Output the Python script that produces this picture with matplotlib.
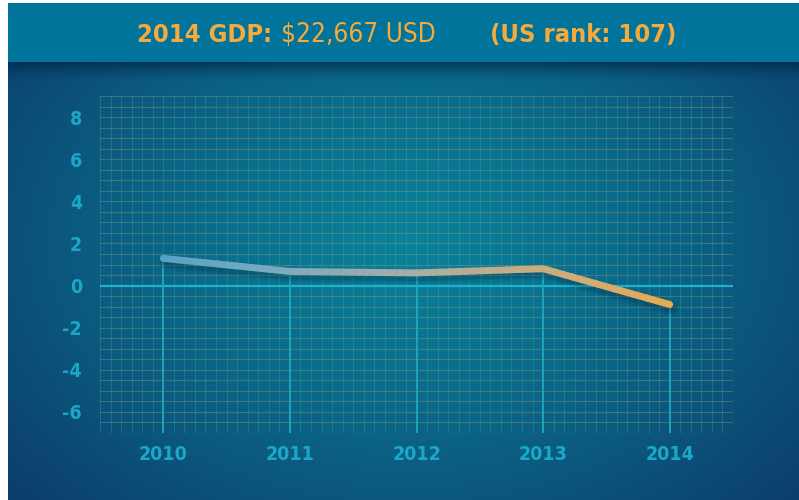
import numpy as np
import matplotlib
matplotlib.use("Agg")
import matplotlib.pyplot as plt
from matplotlib.patches import Rectangle
from matplotlib.colors import LinearSegmentedColormap, to_rgb
from matplotlib import font_manager
from matplotlib.font_manager import FontProperties
import matplotlib.transforms as mtransforms

years = [2010, 2011, 2012, 2013, 2014]
growth = [1.29, 0.67, 0.6, 0.8, -0.9]
y_ticks = [-6, -4, -2, 0, 2, 4, 6, 8]
x_ticks = years
title_bold = "2014 GDP:"
title_value = "$22,667 USD"
title_rank = "(US rank: 107)"

# look for a condensed face
cond_bold, cond_reg = None, None
for f in font_manager.fontManager.ttflist:
    st = str(f.stretch).lower()
    nm = f.name.lower()
    if st in ("condensed", "semi-condensed", "extra-condensed") or "condensed" in nm or "narrow" in nm \
            or "condensed" in f.fname.lower() or "narrow" in f.fname.lower():
        if f.style != "normal":
            continue
        w = f.weight if isinstance(f.weight, int) else (700 if "bold" in str(f.weight) else 400)
        if w >= 600 and cond_bold is None:
            cond_bold = f.fname
        elif w < 600 and cond_reg is None:
            cond_reg = f.fname

if cond_bold:
    FP_B = FontProperties(fname=cond_bold)
    FP_R = FontProperties(fname=cond_reg) if cond_reg else FontProperties(fname=cond_bold)
    bsize, rsize, tsize = 18.3, 18.8, 14
else:
    FP_B = FontProperties(family="Liberation Sans", weight="bold")
    FP_R = FontProperties(family="Liberation Sans")
    bsize, rsize, tsize = 16, 17, 12.5

W, H = 799, 500
fig = plt.figure(figsize=(W / 100, H / 100), dpi=100)
fig.patch.set_facecolor("white")

# background radial gradient
bg = fig.add_axes([8 / W, 0, (W - 8) / W, (H - 3) / H])
bg.set_axis_off()
yy, xx = np.mgrid[0:H, 0:W - 8]
cx, cy = 400, 240
r = np.sqrt(((xx - cx) / 520) ** 2 + ((yy - cy) / 380) ** 2)
r = np.clip(r, 0, 1)
c_in = np.array(to_rgb("#0a8199"))
c_out = np.array(to_rgb("#0c3e6c"))
t = r[..., None] ** 1.2
img = c_in[None, None, :] * (1 - t) + c_out[None, None, :] * t
bg.imshow(img, aspect="auto", extent=[0, 1, 0, 1], origin="upper")
bg.set_xlim(0, 1)
bg.set_ylim(0, 1)

# shadow under header
sh = fig.add_axes([8 / W, (H - 82) / H, (W - 8) / W, 20 / H])
sh.set_axis_off()
grad = np.linspace(0, 1, 50)[:, None]
sh.imshow(np.dstack([np.full((50, 2), 0.0), np.full((50, 2), 0.12), np.full((50, 2), 0.25),
                     0.6 * (1 - grad) ** 1.5 * np.ones((50, 2))]),
          aspect="auto", extent=[0, 1, 0, 1], origin="upper")

# header bar
hdr = fig.add_axes([8 / W, (H - 62) / H, (W - 8) / W, 59 / H])
hdr.set_axis_off()
hdr.add_patch(Rectangle((0, 0), 1, 1, color="#00749b", transform=hdr.transAxes))

orange = "#f4aa3c"
ty = (H - 35) / H
fig.text(137 / W, ty, title_bold, color=orange, fontproperties=FP_B, fontsize=bsize, va="center", ha="left")
fig.text(281 / W, ty, title_value, color=orange, fontproperties=FP_R, fontsize=rsize, va="center", ha="left")
fig.text(490 / W, ty, title_rank, color=orange, fontproperties=FP_B, fontsize=bsize, va="center", ha="left")

# main axes
ax = fig.add_axes([100 / W, (H - 433) / H, 633 / W, 337 / H])
ax.set_facecolor("none")
ax.set_xlim(2009.5, 2014.5)
ax.set_ylim(-7, 9)
for s in ax.spines.values():
    s.set_visible(False)

# minor grid
for v in np.arange(2009.5, 2014.5 + 1e-9, 1 / 12):
    ax.axvline(v, color="#3fb3c0", alpha=0.28, lw=0.8, zorder=1)
for hv in np.arange(-7, 9 + 1e-9, 0.5):
    ax.axhline(hv, color="#a3a56a", alpha=0.35, lw=0.8, zorder=1)

ax.axhline(0, color="#1fb2c8", lw=1.6, zorder=2)
for xv, yv in zip(years, growth):
    ax.plot([xv, xv], [yv, -7], color="#1ea7c2", lw=1.3, zorder=2, solid_capstyle="butt")

# soft shadow
for lw_, a_ in [(11, 0.06), (8, 0.08), (6, 0.1)]:
    ax.plot(years, growth, color="#001428", lw=lw_, alpha=a_, zorder=3,
            solid_capstyle="round", solid_joinstyle="round",
            transform=ax.transData + mtransforms.Affine2D().translate(2, -4))

# gradient line via clipped copies
cmap = LinearSegmentedColormap.from_list("g", ["#3d9cc8", "#74a9c2", "#a9aea6", "#d2ac74", "#f4a935"])
n = 80
edges = np.linspace(2009.4, 2014.6, n + 1)
for i in range(n):
    ln, = ax.plot(years, growth, color=cmap(i / (n - 1)), lw=5, zorder=4,
                  solid_capstyle="round", solid_joinstyle="round")
    ln.set_clip_path(Rectangle((edges[i] - 0.005, -10), edges[i + 1] - edges[i] + 0.01, 25,
                               transform=ax.transData))

tc = "#1ba8c8"
ax.set_yticks(y_ticks)
ax.set_yticklabels([str(v) for v in y_ticks])
ax.set_xticks(x_ticks)
ax.set_xticklabels([str(v) for v in x_ticks])
ax.tick_params(length=0, colors=tc)
ax.tick_params(axis="y", pad=13)
ax.tick_params(axis="x", pad=9)
for lab in ax.get_xticklabels() + ax.get_yticklabels():
    lab.set_fontproperties(FP_B)
    lab.set_fontsize(tsize)

fig.savefig("out.png", dpi=100, facecolor=fig.get_facecolor())
